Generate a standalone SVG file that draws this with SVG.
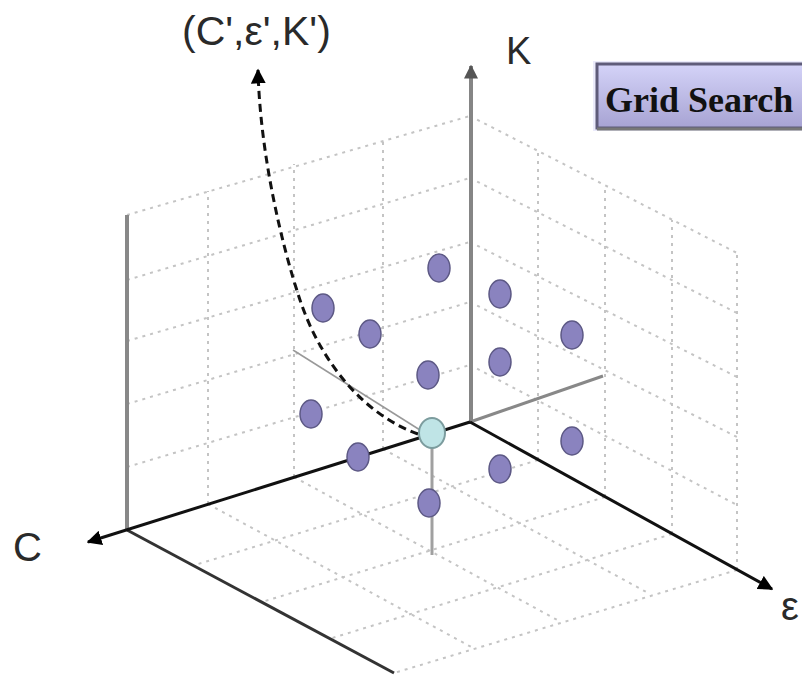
<svg xmlns="http://www.w3.org/2000/svg" width="802" height="676" viewBox="0 0 802 676">
<style>
.grid{stroke:#c4c4c4;stroke-width:2;stroke-dasharray:3 5;fill:none}
.pt{fill:#8a83bf;stroke:#5d5985;stroke-width:1.5}
.lbl{font-family:"Liberation Sans",Arial,sans-serif;fill:#2a2a2a}
</style>
<defs>
<marker id="ah" viewBox="0 0 10 10" refX="9" refY="5" markerWidth="5" markerHeight="5" orient="auto" markerUnits="strokeWidth">
<path d="M0,0 L10,5 L0,10 z" fill="#000"/>
</marker>
<marker id="ahg" viewBox="0 0 10 10" refX="9" refY="5" markerWidth="3.5" markerHeight="3.5" orient="auto" markerUnits="strokeWidth">
<path d="M0,0 L10,5 L0,10 z" fill="#555"/>
</marker>
<linearGradient id="bg" x1="0" y1="0" x2="0" y2="1">
<stop offset="0" stop-color="#d4d3f8"/>
<stop offset="1" stop-color="#a7a3d3"/>
</linearGradient>
</defs>

<g id="grid">
<!-- left wall verticals -->
<line class="grid" x1="383" y1="449" x2="383" y2="138"/>
<line class="grid" x1="294" y1="477" x2="294" y2="164"/>
<line class="grid" x1="208" y1="504" x2="208" y2="191"/>
<!-- left wall rows -->
<line class="grid" x1="127" y1="467" x2="470" y2="365"/>
<line class="grid" x1="127" y1="404" x2="470" y2="302"/>
<line class="grid" x1="127" y1="341" x2="470" y2="242"/>
<line class="grid" x1="127" y1="280" x2="470" y2="178"/>
<line class="grid" x1="127" y1="215" x2="470" y2="116"/>
<!-- right wall verticals -->
<line class="grid" x1="538" y1="460" x2="538" y2="151"/>
<line class="grid" x1="605" y1="497" x2="605" y2="185"/>
<line class="grid" x1="672" y1="534" x2="672" y2="220"/>
<line class="grid" x1="737" y1="570" x2="737" y2="253"/>
<!-- right wall rows -->
<line class="grid" x1="470" y1="365" x2="737" y2="505"/>
<line class="grid" x1="470" y1="302" x2="737" y2="437"/>
<line class="grid" x1="470" y1="242" x2="737" y2="377"/>
<line class="grid" x1="470" y1="178" x2="737" y2="313"/>
<line class="grid" x1="470" y1="116" x2="737" y2="253"/>
<!-- floor -->
<line class="grid" x1="383" y1="449" x2="650" y2="594"/>
<line class="grid" x1="294" y1="477" x2="561" y2="622"/>
<line class="grid" x1="208" y1="504" x2="475" y2="649"/>
<line class="grid" x1="538" y1="460" x2="195" y2="565"/>
<line class="grid" x1="605" y1="497" x2="262" y2="602"/>
<line class="grid" x1="672" y1="534" x2="329" y2="639"/>
<line class="grid" x1="737" y1="570" x2="394" y2="673"/>
</g>

<g id="connectors">
<line x1="127" y1="215" x2="127" y2="531" stroke="#888" stroke-width="4"/>
<line x1="127" y1="530" x2="394" y2="673" stroke="#333" stroke-width="3"/>
<line x1="470" y1="422" x2="603" y2="376" stroke="#888" stroke-width="3"/>
<line x1="432" y1="446" x2="432" y2="555" stroke="#a0a0a0" stroke-width="3"/>
<line x1="293" y1="350" x2="420" y2="430" stroke="#999" stroke-width="1.5"/>
<line x1="471" y1="424" x2="471" y2="66" stroke="#858585" stroke-width="4" marker-end="url(#ahg)"/>
<line x1="470" y1="422" x2="88" y2="542" stroke="#111" stroke-width="3" marker-end="url(#ah)"/>
<line x1="470" y1="422" x2="772" y2="589" stroke="#111" stroke-width="3" marker-end="url(#ah)"/>
<path d="M418,434 C362,414 320,360 300,300 C280,240 260,150 258,70" fill="none" stroke="#111" stroke-width="3" stroke-dasharray="8 5" marker-end="url(#ah)"/>
</g>

<g id="points">
<ellipse class="pt" cx="439" cy="268" rx="11" ry="14"/>
<ellipse class="pt" cx="500" cy="294" rx="11" ry="14"/>
<ellipse class="pt" cx="323" cy="308" rx="11" ry="14"/>
<ellipse class="pt" cx="370" cy="334" rx="11" ry="14"/>
<ellipse class="pt" cx="572" cy="335" rx="11" ry="14"/>
<ellipse class="pt" cx="500" cy="362" rx="11" ry="14"/>
<ellipse class="pt" cx="428" cy="375" rx="11" ry="14"/>
<ellipse class="pt" cx="311" cy="414" rx="11" ry="14"/>
<ellipse class="pt" cx="572" cy="441" rx="11" ry="14"/>
<ellipse class="pt" cx="500" cy="469" rx="11" ry="14"/>
<ellipse class="pt" cx="358" cy="457" rx="11" ry="14"/>
<ellipse class="pt" cx="429" cy="503" rx="11" ry="14"/>
</g>
<g id="optimum">
<ellipse cx="432" cy="433" rx="13" ry="15" fill="#bfe4e6" stroke="#7c9c9e" stroke-width="2"/>
</g>

<g id="labels">
<text class="lbl" x="182" y="45" font-size="41">(C',ε',K')</text>
<text class="lbl" x="506" y="64" font-size="38">K</text>
<text class="lbl" x="13" y="561" font-size="40">C</text>
<text class="lbl" x="781" y="620" font-size="40">ε</text>
</g>

<g id="gridsearch">
<rect x="593" y="61" width="215" height="70" fill="#ebebfb"/>
<rect x="597" y="64" width="210" height="64" fill="url(#bg)" stroke="#5f5c7a" stroke-width="3"/>
<line x1="597" y1="129" x2="802" y2="129" stroke="#777" stroke-width="3"/>
<text x="605" y="112" font-family="Liberation Serif,'Times New Roman',serif" font-weight="bold" font-size="36" fill="#111">Grid Search</text>
</g>
</svg>
